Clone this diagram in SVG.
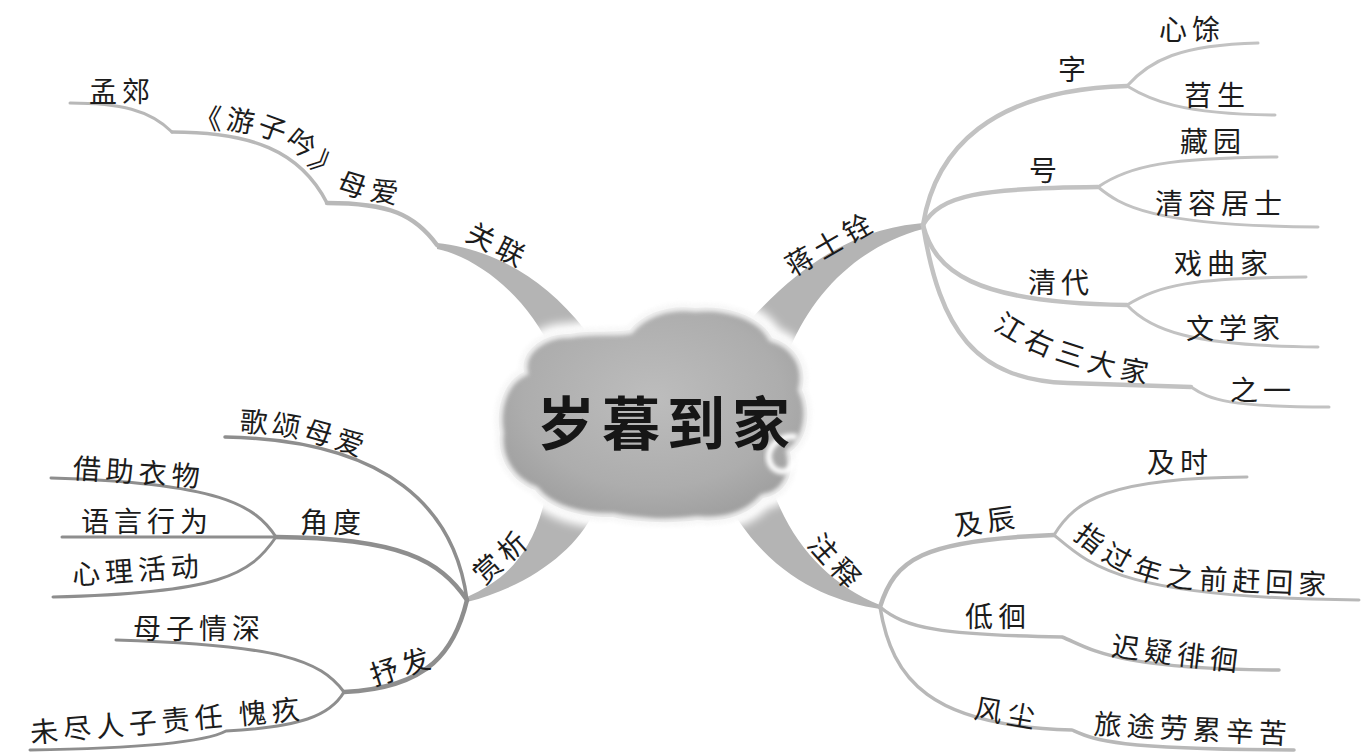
<svg xmlns="http://www.w3.org/2000/svg" width="1362" height="754" viewBox="0 0 1362 754">
<style>
.t{font-family:"Noto Sans CJK SC","Noto Sans",sans-serif;font-size:28px;fill:#1c1c1c;letter-spacing:5px;dominant-baseline:central}
.ln{fill:none;stroke:#c2c2c2;stroke-linecap:round;stroke-linejoin:round}
.lb{stroke:#b8b8b8}
.ld{stroke:#8e8e8e}
.band{fill:#b4b4b4}
.w3{stroke-width:3}
.w4{stroke-width:4.5}
</style>
<defs>
<radialGradient id="cg" cx="0.5" cy="0.42" r="0.6">
<stop offset="0" stop-color="#bdbdbd"/>
<stop offset="0.7" stop-color="#adadad"/>
<stop offset="1" stop-color="#9e9e9e"/>
</radialGradient>
<filter id="blur6" x="-20%" y="-20%" width="140%" height="140%"><feGaussianBlur stdDeviation="5"/></filter>
<filter id="blur2" x="-20%" y="-20%" width="140%" height="140%"><feGaussianBlur stdDeviation="2"/></filter>
<path id="cloudShape" d="M500,433 C495,405 506,380 524,372 C520,350 545,333 570,334 C590,330 615,333 630,330 C645,312 670,305 695,308 C725,305 760,315 772,338 C795,345 808,365 802,390 C812,410 808,440 790,452 C795,475 785,495 763,498 C745,518 720,522 697,520 C670,524 635,522 613,517 C585,518 550,510 535,490 C513,482 497,460 500,433 Z"/>
<path id="tp1" d="M194,116 L215,117 C250,118 280,126 300,140 C318,153 325,168 340,178 C360,188 390,191 440,198"/>
<path id="tp2" d="M999,318 Q1053,357 1172,376"/>
<path id="tp3" d="M1080,528 C1110,553 1140,575 1200,577 L1350,584"/>
<path id="tp4" d="M240,420 C280,420 320,428 380,452"/>
</defs>
<rect width="1362" height="754" fill="#ffffff"/>

<g id="connectors">
<path class="band" d="M437,243 C485,248 540,272 585,330 L552,352 C530,300 480,258 437,249 Z"/>
<path class="band" d="M923,223 C868,228 815,250 752,318 L790,348 C815,290 860,246 923,229 Z"/>
<path class="band" d="M467,597 C500,582 530,560 544,503 L594,512 C576,550 530,586 467,602 Z"/>
<path class="band" d="M772,488 C792,545 830,585 880,605 L880,609 C830,601 768,577 726,500 Z"/>

<path class="ln lb w3" d="M70,103 C120,103 150,110 172,132"/>
<path class="ln lb" stroke-width="3.5" d="M172,132 C250,132 300,150 327,203"/>
<path class="ln lb w4" d="M327,203 C390,203 415,215 437,245"/>

<path class="ln w4" d="M923,225 C935,150 990,90 1127,86"/>
<path class="ln w3" d="M1127,86 C1150,60 1180,45 1258,43"/>
<path class="ln w3" d="M1127,86 C1150,100 1180,114 1275,115"/>
<path class="ln w4" d="M923,225 C940,195 980,188 1098,187"/>
<path class="ln w3" d="M1098,187 C1130,165 1170,158 1277,157"/>
<path class="ln w3" d="M1098,187 C1120,205 1150,226 1318,227"/>
<path class="ln w4" d="M923,225 C935,270 970,303 1127,305"/>
<path class="ln w3" d="M1127,305 C1160,285 1190,278 1306,277"/>
<path class="ln w3" d="M1127,305 C1150,330 1190,346 1318,347"/>
<path class="ln w4" d="M923,225 C940,330 975,380 1068,383 L1191,387"/>
<path class="ln w3" d="M1191,387 C1210,400 1230,407 1329,407"/>

<path class="ln ld" stroke-width="3.5" d="M467,600 C455,510 390,440 225,437"/>
<path class="ln ld w4" d="M467,600 C440,560 400,538 276,537"/>
<path class="ln ld w3" d="M276,537 C255,505 220,483 51,478"/>
<path class="ln ld w3" d="M276,537 L62,537"/>
<path class="ln ld w3" d="M276,537 C250,575 220,593 53,597"/>
<path class="ln ld w4" d="M467,600 C455,650 430,688 344,692"/>
<path class="ln ld w3" d="M344,692 C320,660 280,645 116,640"/>
<path class="ln ld w3" d="M344,692 C330,716 300,727 226,731 C200,745 100,749 30,750"/>

<path class="ln lb w4" d="M880,607 C895,560 920,540 1054,535"/>
<path class="ln lb w3" d="M1054,535 C1075,500 1110,478 1247,477"/>
<path class="ln lb w3" d="M1054,535 C1090,565 1120,598 1359,600"/>
<path class="ln lb" stroke-width="3.5" d="M880,607 C905,628 940,635 1062,637 C1090,648 1110,669 1279,670"/>
<path class="ln lb" stroke-width="3.5" d="M880,607 C892,680 930,726 1072,730 C1095,740 1110,749 1294,750"/>
</g>

<g id="center">
<use href="#cloudShape" fill="none" stroke="#ffffff" stroke-width="22" filter="url(#blur6)"/>
<use href="#cloudShape" fill="url(#cg)"/>
<use href="#cloudShape" fill="none" stroke="#f6f6f6" stroke-width="8" opacity="0.9" filter="url(#blur2)"/>
<path d="M797,437 C778,434 763,450 771,465 C778,476 795,472 794,460" fill="none" stroke="#ffffff" stroke-width="6" filter="url(#blur2)"/>
<text class="t" x="667" y="420" text-anchor="middle" style="font-size:58px;letter-spacing:7px;font-weight:700;fill:#161616">岁暮到家</text>
</g>

<g id="n-guanlian"><text class="t" x="499" y="243" text-anchor="middle" transform="rotate(27 497 243)">关联</text></g>
<g id="n-mengjiao"><text class="t" x="89" y="90">孟郊</text></g>
<g id="n-youziyin"><text class="t"><textPath href="#tp1">《游子吟》母爱</textPath></text></g>

<g id="n-jiang"><text class="t" x="830" y="243" text-anchor="middle" transform="rotate(-30 828 243)">蒋士铨</text></g>
<g id="n-zi"><text class="t" x="1058" y="68">字</text></g>
<g id="n-xinyu"><text class="t" x="1159" y="28">心馀</text></g>
<g id="n-tiaosheng"><text class="t" x="1184" y="94">苕生</text></g>
<g id="n-hao"><text class="t" x="1029" y="169">号</text></g>
<g id="n-cangyuan"><text class="t" x="1180" y="140">藏园</text></g>
<g id="n-qingrong"><text class="t" x="1155" y="202">清容居士</text></g>
<g id="n-qingdai"><text class="t" x="1028" y="281">清代</text></g>
<g id="n-xiqu"><text class="t" x="1174" y="262">戏曲家</text></g>
<g id="n-wenxue"><text class="t" x="1186" y="327">文学家</text></g>
<g id="n-jiangyou"><text class="t"><textPath href="#tp2">江右三大家</textPath></text></g>
<g id="n-zhiyi"><text class="t" x="1230" y="389">之一</text></g>

<g id="n-shangxi"><text class="t" x="501" y="556" text-anchor="middle" transform="rotate(-42 499 556)">赏析</text></g>
<g id="n-gesong"><text class="t"><textPath href="#tp4">歌颂母爱</textPath></text></g>
<g id="n-jiaodu"><text class="t" x="300" y="521">角度</text></g>
<g id="n-jiezhu"><text class="t" x="73" y="466" transform="rotate(4 73 466)">借助衣物</text></g>
<g id="n-yuyan"><text class="t" x="81" y="520">语言行为</text></g>
<g id="n-xinli"><text class="t" x="72" y="573" transform="rotate(-4 72 573)">心理活动</text></g>
<g id="n-shufa"><text class="t" x="402" y="665" text-anchor="middle" transform="rotate(-18 400 665)">抒发</text></g>
<g id="n-muzi"><text class="t" x="133" y="627">母子情深</text></g>
<g id="n-weijin"><text class="t" x="30" y="731" transform="rotate(-5 30 731)">未尽人子责任 愧疚</text></g>

<g id="n-zhushi"><text class="t" x="838" y="560" text-anchor="middle" transform="rotate(48 836 560)">注释</text></g>
<g id="n-jichen"><text class="t" x="954" y="524" transform="rotate(-8 954 524)">及辰</text></g>
<g id="n-jishi"><text class="t" x="1147" y="461">及时</text></g>
<g id="n-zhiguo"><text class="t"><textPath href="#tp3">指过年之前赶回家</textPath></text></g>
<g id="n-dihui"><text class="t" x="965" y="615">低徊</text></g>
<g id="n-chiyi"><text class="t" x="1112" y="644" transform="rotate(7 1112 644)">迟疑徘徊</text></g>
<g id="n-fengchen"><text class="t" x="975" y="706" transform="rotate(10 975 706)">风尘</text></g>
<g id="n-lvtu"><text class="t" x="1094" y="722" transform="rotate(3 1094 722)">旅途劳累辛苦</text></g>
</svg>
